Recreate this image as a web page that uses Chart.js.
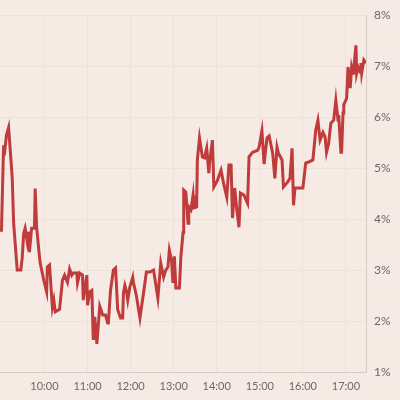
<!DOCTYPE html>
<html>
<head>
<meta charset="utf-8">
<script src="https://cdn.jsdelivr.net/npm/chart.js@4/dist/chart.umd.min.js"></script>
<style>
  html, body { margin: 0; padding: 0; background: #f6eae4; }
  #wrap { width: 400px; height: 400px; }
</style>
</head>
<body>
<div id="wrap"><canvas id="rateChart" width="400" height="400"></canvas></div>
<script>
// minutes after 09:00
var minutes = [0, 3, 4, 7, 10, 15, 17, 22, 27, 29, 31, 33, 36, 38, 39, 42, 46, 47, 49, 52,
  54, 59, 63, 64, 67, 71, 73, 75, 81, 85, 88, 92, 95, 98, 100, 105, 106, 109, 113, 114,
  119, 120, 123, 126, 128, 130, 133, 137, 141, 145, 148, 149, 152, 156, 159, 162, 166, 169, 170, 172,
  174, 176, 179, 183, 184, 188, 193, 198, 202, 207, 212, 218, 222, 226, 229, 232, 234, 237, 239, 241,
  243, 248, 250, 253, 254, 257, 260, 261, 264, 267, 268, 272, 273, 276, 280, 283, 286, 289, 290, 294,
  296, 301, 306, 310, 314, 317, 320, 322, 325, 328, 331, 333, 338, 343, 345, 350, 357, 359, 363, 366,
  370, 373, 378, 381, 384, 386, 391, 393, 399, 402, 405, 407, 409, 413, 420, 421, 424, 428, 434, 438,
  441, 444, 448, 451, 453, 456, 459, 463, 466, 469, 470, 473, 474, 476, 477, 481, 483, 486, 488, 490,
  491, 494, 495, 497, 500, 501, 502, 505, 508]
// percent
var rates = [3.75, 5.45, 5.25, 5.65, 5.8, 4.82, 3.92, 3.0, 3.0, 3.25, 3.72, 3.82, 3.55, 3.75, 3.35, 3.82, 3.82, 4.6, 3.85, 3.4,
  3.14, 2.8, 2.57, 3.06, 3.1, 2.27, 2.41, 2.18, 2.23, 2.8, 2.9, 2.76, 3.02, 2.9, 2.94, 2.94, 2.75, 2.94, 2.9, 2.41,
  2.9, 2.31, 2.57, 2.6, 1.63, 2.08, 1.55, 2.29, 2.12, 2.12, 1.96, 1.96, 2.6, 3.0, 3.04, 2.22, 2.06, 2.06, 2.55, 2.7,
  2.6, 2.41, 2.67, 2.86, 2.75, 2.5, 2.06, 2.55, 2.96, 2.96, 3.0, 2.45, 3.14, 2.86, 3.0, 3.06, 3.39, 3.2, 2.75, 3.27,
  2.65, 2.65, 3.25, 3.73, 4.57, 4.53, 3.92, 4.24, 4.18, 4.47, 4.22, 4.24, 5.16, 5.59, 5.22, 5.2, 5.39, 4.9, 5.1, 5.55,
  4.63, 4.76, 4.96, 4.67, 4.43, 5.06, 5.06, 4.02, 4.61, 4.18, 3.84, 4.51, 4.47, 4.31, 5.22, 5.31, 5.35, 5.41, 5.73, 5.08,
  5.59, 5.63, 5.29, 4.8, 5.41, 5.29, 5.16, 4.63, 4.73, 4.8, 5.39, 4.27, 4.61, 4.61, 4.61, 4.73, 5.1, 5.12, 5.16, 5.75,
  5.94, 5.55, 5.7, 5.61, 5.31, 5.49, 5.88, 5.94, 6.33, 5.94, 6.04, 5.31, 5.31, 6.08, 6.24, 6.37, 6.98, 6.57, 6.98, 6.86,
  6.96, 7.41, 6.86, 6.98, 6.88, 7.06, 6.86, 7.12, 7.06]
var hourTicks = [60, 120, 180, 240, 300, 360, 420, 480]
var hourLabels = ['10:00', '11:00', '12:00', '13:00', '14:00', '15:00', '16:00', '17:00']
var rateTicks = [1, 2, 3, 4, 5, 6, 7, 8]

var points = minutes.map(function(m, i) { return {x: m, y: rates[i]} })

var ctx = document.getElementById('rateChart').getContext('2d')
new Chart(ctx, {
  type: 'line',
  data: {
    datasets: [{
      data: points,
      borderColor: '#c03b3b',
      borderWidth: 3,
      pointRadius: 0,
      tension: 0,
      fill: false
    }]
  },
  options: {
    responsive: false,
    animation: false,
    layout: { padding: { top: 15, left: 0, right: 0, bottom: 0 } },
    plugins: { legend: { display: false }, tooltip: { enabled: false } },
    scales: {
      x: {
        type: 'linear',
        min: -2,
        max: 508,
        afterBuildTicks: function(scale) {
          scale.ticks = hourTicks.map(function(v) { return {value: v} })
        },
        afterFit: function(scale) { scale.height = 28 },
        grid: { color: '#efe1d8', drawTicks: false },
        border: { color: '#d9cbc5' },
        ticks: {
          padding: 8,
          maxRotation: 0,
          color: '#6e6866',
          font: { family: 'Lato', size: 11 },
          callback: function(v) {
            var i = hourTicks.indexOf(v)
            return i >= 0 ? hourLabels[i] : ''
          }
        }
      },
      y: {
        position: 'right',
        min: 1,
        max: 8,
        afterBuildTicks: function(scale) {
          scale.ticks = rateTicks.map(function(v) { return {value: v} })
        },
        afterFit: function(scale) { scale.width = 34 },
        grid: { color: '#efe1d8', drawTicks: false },
        border: { color: '#d9cbc5' },
        ticks: {
          padding: 8,
          color: '#6e6866',
          font: { family: 'Lato', size: 12 },
          callback: function(v) { return v + '%' }
        }
      }
    }
  }
})
</script>
</body>
</html>
